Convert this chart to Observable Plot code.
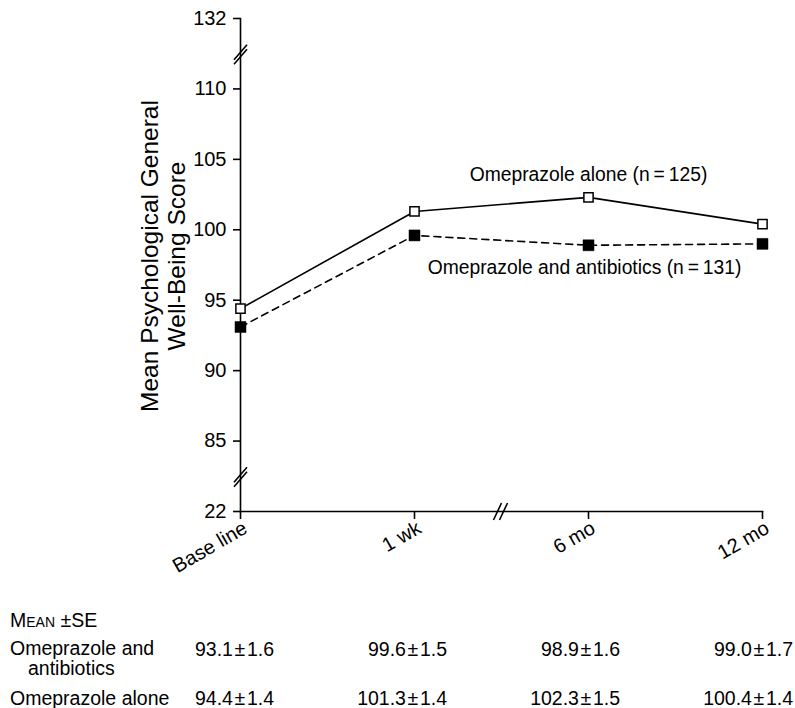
<!DOCTYPE html>
<html>
<head>
<meta charset="utf-8">
<script src="https://cdn.jsdelivr.net/npm/d3@7"></script>
<script src="https://cdn.jsdelivr.net/npm/@observablehq/plot@0.6"></script>
<style>
  html, body { margin: 0; padding: 0; background: #fff; }
  body { width: 795px; font-family: "Liberation Sans", Arial, sans-serif; color: #000; }
  #table { position: relative; width: 795px; height: 118px; font-size: 19.5px; line-height: 17px; }
  #table div { position: absolute; white-space: nowrap; height: 17px; }
  .sc { font-variant: small-caps; }
  .num { text-align: right; }
</style>
</head>
<body>
<div id="chart"></div>
<div id="table"></div>
<script>
// ---- data ----
const timepoints = ["Base line", "1 wk", "6 mo", "12 mo"];
const aloneMeans = [94.4, 101.3, 102.3, 100.4];
const aloneSE = [1.4, 1.4, 1.5, 1.4];
const comboMeans = [93.1, 99.6, 98.9, 99.0];
const comboSE = [1.6, 1.5, 1.6, 1.7];
const aloneLabel = "Omeprazole alone (n\u2009=\u2009125)";
const comboLabel = "Omeprazole and antibiotics (n\u2009=\u2009131)";
// y axis ticks (virtual positions) and their printed labels (broken axis)
const yTickPos = [80, 85, 90, 95, 100, 105, 110, 115];
const yTickLabels = ["22", "85", "90", "95", "100", "105", "110", "132"];
const yBreaks = [82.5, 112.5];
const xBreaks = [1.5];
const xTickPos = [0, 1, 2, 3];

const alone = aloneMeans.map((v, i) => ({i, v}));
const combo = comboMeans.map((v, i) => ({i, v}));

const slashY = {
  draw(ctx) {
    ctx.moveTo(-6.5, 6); ctx.lineTo(6.5, -9);
    ctx.moveTo(-6.5, 10.5); ctx.lineTo(6.5, -4.5);
  }
};
const slashX = {
  draw(ctx) {
    ctx.moveTo(-8, 8.5); ctx.lineTo(0, -8.5);
    ctx.moveTo(-2, 8.5); ctx.lineTo(6, -8.5);
  }
};

const chart = Plot.plot({
  width: 795,
  height: 590,
  marginLeft: 240,
  marginRight: 33,
  marginTop: 18,
  marginBottom: 79,
  style: { fontFamily: '"Liberation Sans", Arial, sans-serif', fontSize: "20px", color: "#000", background: "#fff" },
  x: { type: "linear", domain: [0, 3], axis: null },
  y: { type: "linear", domain: [80, 115], axis: null },
  marks: [
    Plot.frame({ anchor: "left", stroke: "#000", strokeWidth: 1.6 }),
    Plot.frame({ anchor: "bottom", stroke: "#000", strokeWidth: 1.6 }),
    Plot.axisY({
      ticks: yTickPos, label: null,
      tickFormat: d => yTickLabels[yTickPos.indexOf(d)],
      tickSize: 7, tickPadding: 7, fontSize: 20, strokeWidth: 1.6
    }),
    // x tick marks
    Plot.axisX({
      ticks: xTickPos, label: null, tickFormat: () => "",
      tickSize: 8, strokeWidth: 1.6
    }),
    // x tick labels (rotated)
    Plot.axisX({
      ticks: xTickPos, label: null,
      tickFormat: i => timepoints[i],
      tickSize: 0, tickPadding: 9, tickRotate: -30, fontSize: 20,
      dx: 5, dy: 6
    }),
    Plot.dot(yBreaks, { x: () => 0, y: d => d, symbol: slashY, r: 5, fill: "none", stroke: "#000", strokeWidth: 1.6 }),
    Plot.dot(xBreaks, { x: d => d, y: () => 80, symbol: slashX, r: 5, fill: "none", stroke: "#000", strokeWidth: 1.6 }),
    Plot.line(alone, { x: "i", y: "v", stroke: "#000", strokeWidth: 1.6 }),
    Plot.line(combo, { x: "i", y: "v", stroke: "#000", strokeWidth: 1.6, strokeDasharray: "7,5" }),
    Plot.dot(combo, { x: "i", y: "v", symbol: "square", r: 6.2, fill: "#000", stroke: "#000", strokeWidth: 0.5 }),
    Plot.dot(alone, { x: "i", y: "v", symbol: "square", r: 5.2, fill: "#fff", stroke: "#000", strokeWidth: 1.5 }),
    Plot.text([alone[2]], { x: "i", y: "v", text: () => aloneLabel, dy: -23, fontSize: 19.3, fill: "#000" }),
    Plot.text([combo[2]], { x: "i", y: "v", text: () => comboLabel, dy: 23, dx: -4, fontSize: 19.3, fill: "#000" })
  ]
});
document.getElementById("chart").appendChild(chart);

// y-axis title (two lines, rotated)
const svg = d3.select(chart);
const tt = svg.append("text")
  .attr("transform", "translate(163,256) rotate(-90)")
  .attr("text-anchor", "middle")
  .attr("font-size", 24.5)
  .attr("fill", "#000");
tt.append("tspan").attr("x", 0).attr("y", -5).text("Mean Psychological General");
tt.append("tspan").attr("x", 0).attr("y", 22).text("Well-Being Score");

// table of mean ± SE
const tbl = document.getElementById("table");
function cell(txt, left, top, rightEdge, cls) {
  const d = document.createElement("div");
  d.textContent = txt;
  if (cls) d.className = cls;
  d.style.top = top + "px";
  if (rightEdge != null) { d.style.right = (795 - rightEdge) + "px"; }
  else d.style.left = left + "px";
  tbl.appendChild(d);
}
const pm = "\u200a\u00b1\u200a";
cell("Mean \u00b1SE", 10, 21.5, null, "sc");
cell("Omeprazole and", 10, 50, null);
cell("antibiotics", 28, 70, null);
cell("Omeprazole alone", 10, 99.5, null);
const rights = [274, 447, 620, 793];
comboMeans.forEach((m, k) => cell(m.toFixed(1) + pm + comboSE[k].toFixed(1), null, 50.5, rights[k], "num"));
aloneMeans.forEach((m, k) => cell(m.toFixed(1) + pm + aloneSE[k].toFixed(1), null, 99.5, rights[k], "num"));
</script>
</body>
</html>
